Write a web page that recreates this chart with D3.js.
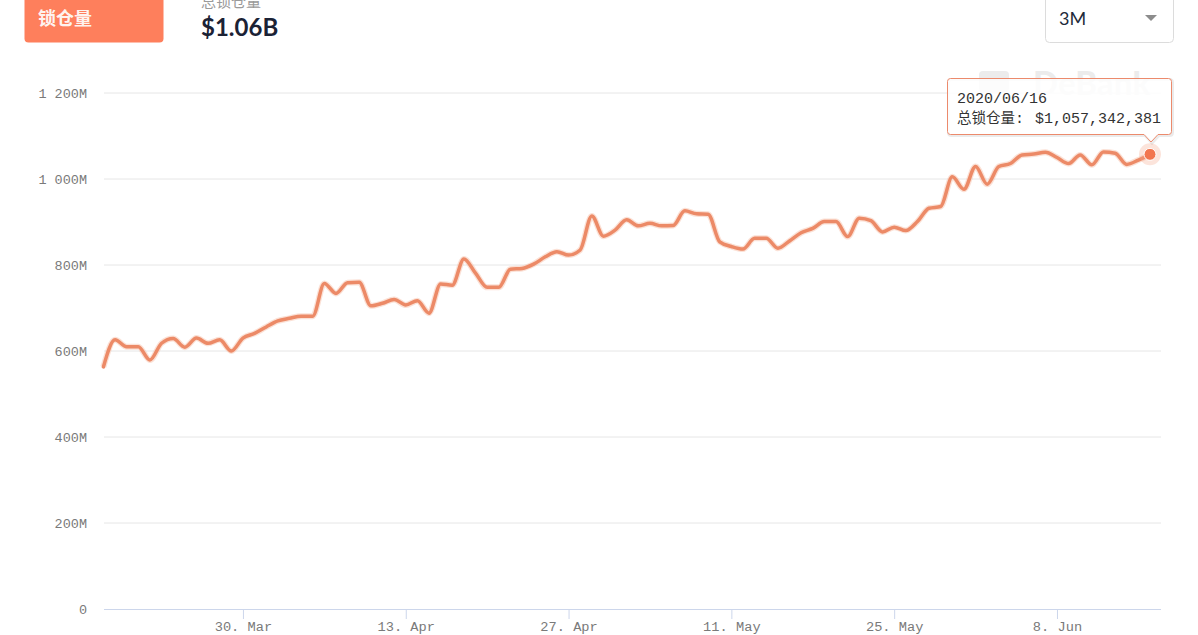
<!DOCTYPE html>
<html>
<head>
<meta charset="utf-8">
<script src="https://cdn.jsdelivr.net/npm/d3@7"></script>
<style>
  html, body { margin: 0; padding: 0; background: #fff; }
  svg { display: block; }
</style>
</head>
<body>
<svg id="chart" width="1198" height="635"></svg>
<script>
// ---- data (values in millions USD, daily from startDate) ----
const startDate = "2020-03-18";
const tvlValues = [
  563, 626, 610, 610, 579, 618, 629, 609, 630, 618,
  626, 600, 630, 641, 656, 670, 676, 681, 681, 757,
  734, 759, 760, 705, 711, 720, 707, 717, 688, 756,
  753, 814, 781, 748, 748, 790, 792, 802, 819, 831,
  823, 835, 914, 867, 881, 905, 891, 897, 891, 892,
  926, 919, 918, 854, 843, 837, 862, 862, 839, 856,
  875, 885, 901, 901, 866, 909, 903, 877, 888, 880,
  901, 932, 936, 1005, 976, 1029, 988, 1029, 1036, 1056,
  1058, 1062, 1050, 1036, 1056, 1033, 1063, 1060, 1034, 1044,
  1057.342381
];
const xTickDates = ["2020-03-30", "2020-04-13", "2020-04-27", "2020-05-11", "2020-05-25", "2020-06-08"];
const yTickValues = [0, 200, 400, 600, 800, 1000, 1200];
const seriesName = "总锁仓量";
const headerTab = "锁仓量";
const headerValue = "$1.06B";
const rangeLabel = "3M";
const tooltipDate = "2020/06/16";
const tooltipValue = "$1,057,342,381";

// ---- build ----
const svg = d3.select("#chart");
const parse = d3.utcParse("%Y-%m-%d");
const d0 = parse(startDate);
const data = tvlValues.map((v, i) => ({ date: d3.utcDay.offset(d0, i), value: v }));

const x = d3.scaleUtc()
  .domain([d0, data[data.length - 1].date])
  .range([103.4, 1150]);
const y = d3.scaleLinear().domain([0, 1200]).range([609, 93]);

const plotLeft = 104, plotRight = 1161;
const mono = "'Courier New', 'Liberation Mono', monospace";

// gridlines
svg.append("g").selectAll("line").data(yTickValues.filter(v => v > 0)).join("line")
  .attr("x1", plotLeft).attr("x2", plotRight)
  .attr("y1", d => y(d)).attr("y2", d => y(d))
  .attr("stroke", "#e6e6e6").attr("stroke-width", 1);

// y labels
const fmtY = v => v === 0 ? "0" : d3.format(",")(v).replace(/,/g, " ") + "M";
svg.append("g").selectAll("text").data(yTickValues).join("text")
  .attr("x", 87).attr("y", d => y(d) + 4.5)
  .attr("text-anchor", "end")
  .attr("font-family", mono).attr("font-size", 13.5)
  .attr("fill", "#7a7a7a")
  .text(fmtY);

// x axis
const xAxis = d3.axisBottom(x)
  .tickValues(xTickDates.map(parse))
  .tickFormat(d3.utcFormat("%-d. %b"))
  .tickSize(10).tickPadding(13);
const gx = svg.append("g").attr("transform", "translate(0,609)").call(xAxis);
gx.select(".domain").remove();
gx.selectAll(".tick line").attr("stroke", "#ccd6eb");
gx.selectAll(".tick text").attr("y", 22).attr("dy", 0)
  .attr("font-family", mono).attr("font-size", 13.7).attr("fill", "#7a7a7a");
svg.append("line").attr("x1", plotLeft).attr("x2", plotRight).attr("y1", 609.5).attr("y2", 609.5)
  .attr("stroke", "#ccd6eb").attr("stroke-width", 1);

// watermark
const wm = svg.append("g").attr("opacity", 1);
wm.append("rect").attr("x", 979).attr("y", 71).attr("width", 30).attr("height", 22).attr("rx", 4).attr("fill", "#ececec");
wm.append("text").attr("x", 1033).attr("y", 95).attr("font-family", "Lato, sans-serif").attr("font-weight", 900)
  .attr("font-size", 33).attr("fill", "#ececec").text("DeBank");

// line
const lineGen = d3.line().x(d => x(d.date)).y(d => y(d.value)).curve(d3.curveMonotoneX);
svg.append("path").datum(data)
  .attr("fill", "none")
  .attr("stroke", "#f7c3ae").attr("stroke-width", 6).attr("stroke-opacity", 0.5)
  .attr("stroke-linejoin", "round")
  .attr("d", lineGen);
svg.append("path").datum(data)
  .attr("fill", "none")
  .attr("stroke", "#ec8a67").attr("stroke-width", 3.5)
  .attr("stroke-linejoin", "round").attr("stroke-linecap", "round")
  .attr("d", lineGen);

// hover marker
const last = data[data.length - 1];
svg.append("circle").attr("cx", x(last.date)).attr("cy", y(last.value)).attr("r", 11)
  .attr("fill", "#f4a488").attr("opacity", 0.3);
svg.append("circle").attr("cx", x(last.date)).attr("cy", y(last.value)).attr("r", 6)
  .attr("fill", "#f2764f").attr("stroke", "#fff").attr("stroke-width", 1);

// tooltip
const tx0 = 947.5, tx1 = 1171.5, ty0 = 78.5, ty1 = 134.5, r = 3;
const ax = x(last.date) + 1, ay = 142;
const tipPath = `M${tx0 + r},${ty0} L${tx1 - r},${ty0} Q${tx1},${ty0} ${tx1},${ty0 + r} L${tx1},${ty1 - r} Q${tx1},${ty1} ${tx1 - r},${ty1}
  L${ax + 7},${ty1} L${ax},${ay} L${ax - 7},${ty1} L${tx0 + r},${ty1} Q${tx0},${ty1} ${tx0},${ty1 - r} L${tx0},${ty0 + r} Q${tx0},${ty0} ${tx0 + r},${ty0} Z`;
svg.append("path").attr("d", tipPath).attr("transform", "translate(1,1)")
  .attr("fill", "none").attr("stroke", "#000").attr("stroke-opacity", 0.08).attr("stroke-width", 3);
svg.append("path").attr("d", tipPath)
  .attr("fill", "rgba(255,255,255,0.85)").attr("stroke", "#ec8a6c").attr("stroke-width", 1);
svg.append("text").attr("x", 957).attr("y", 103).attr("font-family", mono).attr("font-size", 15)
  .attr("fill", "#333").text(tooltipDate);
const t2 = svg.append("text").attr("x", 957).attr("y", 123).attr("font-family", mono).attr("font-size", 15).attr("fill", "#333");
t2.append("tspan").attr("font-family", "'Noto Sans CJK SC', sans-serif").attr("font-size", 14.5).text(seriesName);
t2.append("tspan").text(": ");
t2.append("tspan").attr("x", 1035).text(tooltipValue);

// header: tab button
svg.append("rect").attr("x", 24.5).attr("y", -10).attr("width", 139).attr("height", 52.5).attr("rx", 4)
  .attr("fill", "#fe7f5c");
svg.append("text").attr("x", 38).attr("y", 25).attr("font-family", "'Noto Sans CJK SC', sans-serif")
  .attr("font-weight", 700).attr("font-size", 18).attr("fill", "#fff").attr("fill-opacity", 0.92).text(headerTab);

// header: title + value
svg.append("text").attr("x", 201).attr("y", 7).attr("font-family", "'Noto Sans CJK SC', sans-serif")
  .attr("font-size", 15).attr("fill", "#9a9a9a").text(seriesName);
svg.append("text").attr("x", 201).attr("y", 36).attr("font-family", "Lato, sans-serif")
  .attr("font-weight", 700).attr("font-size", 24).attr("fill", "#1b2235").text(headerValue);

// range dropdown
svg.append("rect").attr("x", 1045.5).attr("y", -10).attr("width", 128).attr("height", 52.5).attr("rx", 4)
  .attr("fill", "#fff").attr("stroke", "#dcdcdc");
svg.append("text").attr("x", 1059).attr("y", 25).attr("font-family", "Lato, sans-serif")
  .attr("font-size", 18).attr("fill", "#222a3a").text(rangeLabel);
svg.append("path").attr("d", "M1145,15 L1157,15 L1151,21 Z").attr("fill", "#8c8c8c");
</script>
</body>
</html>
